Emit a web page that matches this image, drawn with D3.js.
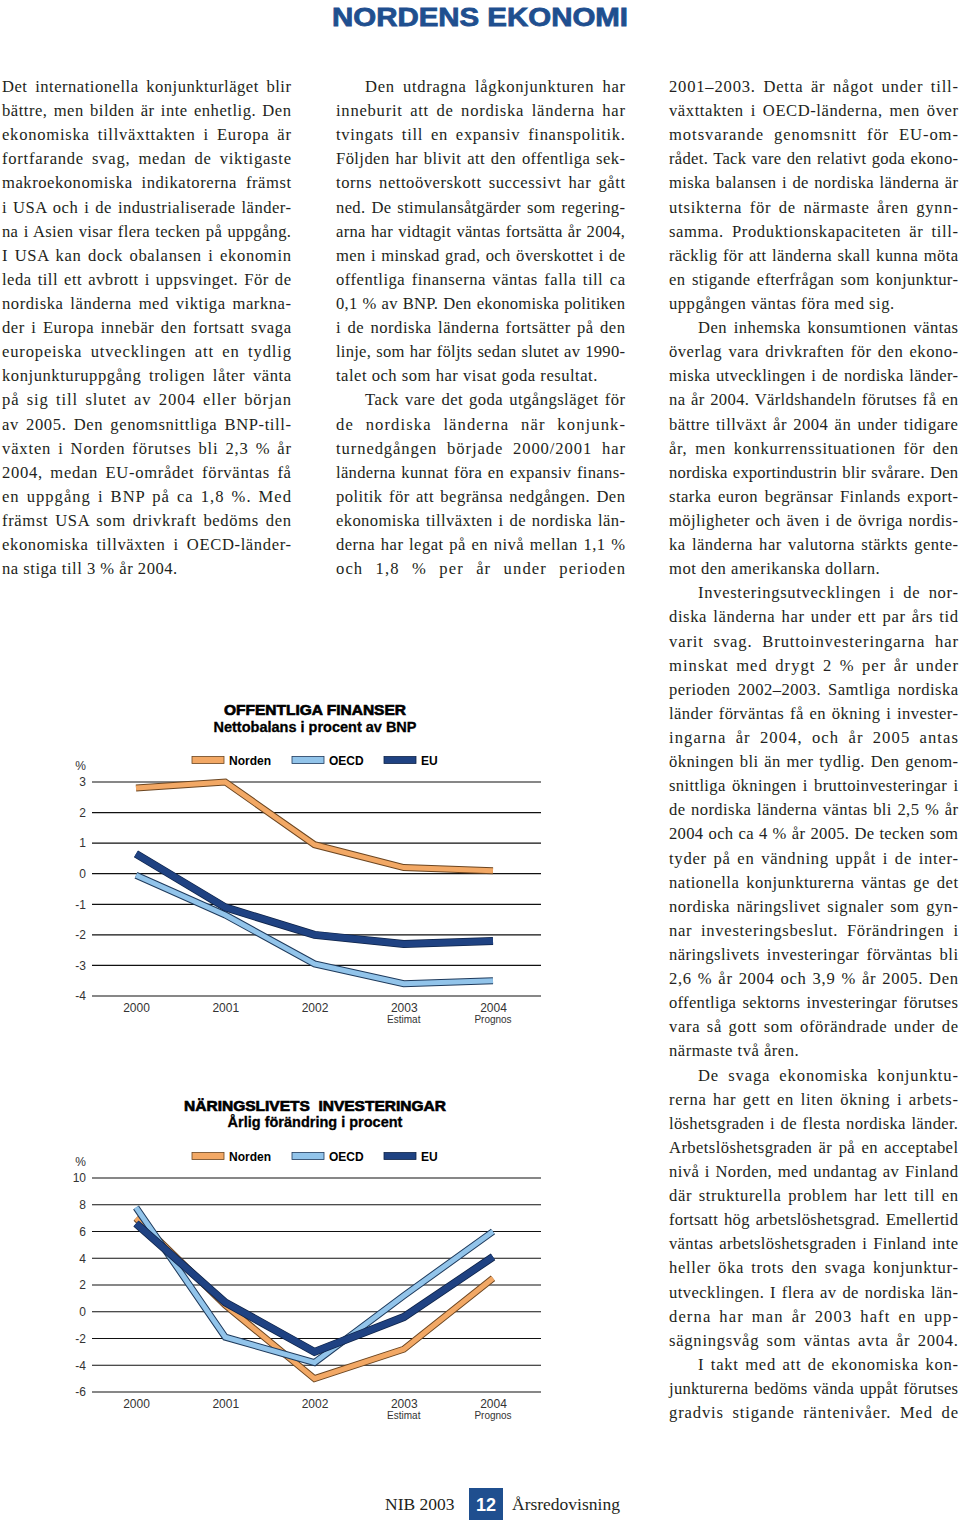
<!DOCTYPE html>
<html><head><meta charset="utf-8">
<script src="https://cdn.jsdelivr.net/npm/d3@7"></script>
<style>
html,body{margin:0;padding:0;background:#fff;}
svg{display:block;}
</style>
</head><body>
<svg id="page" width="960" height="1528"></svg>
<script>
// ---------- DATA ----------
const years = ["2000","2001","2002","2003","2004"];
const yearNotes = ["","","","Estimat","Prognos"];
const seriesNames = ["Norden","OECD","EU"];
// Offentliga finanser – nettobalans i procent av BNP
const finNorden = [2.8, 3.0, 0.95, 0.2, 0.1];
const finOECD   = [-0.05, -1.35, -2.95, -3.6, -3.5];
const finEU     = [0.65, -1.1, -2.0, -2.3, -2.2];
const finTicks  = [-4,-3,-2,-1,0,1,2,3];
// Näringslivets investeringar – årlig förändring i procent
const invNorden = [7.0, 0.5, -5.0, -2.8, 2.5];
const invOECD   = [7.8, -1.9, -3.8, 1.2, 6.0];
const invEU     = [6.6, 0.7, -3.0, -0.4, 4.1];
const invTicks  = [-6,-4,-2,0,2,4,6,8,10];

// ---------- TEXT ----------
// ">" = indented first line, "|" at end = paragraph end (not justified)
const col1 = [
"Det internationella konjunkturläget blir",
"bättre, men bilden är inte enhetlig. Den",
"ekonomiska tillväxttakten i Europa är",
"fortfarande svag, medan de viktigaste",
"makroekonomiska indikatorerna främst",
"i USA och i de industrialiserade länder-",
"na i Asien visar flera tecken på uppgång.",
"I USA kan dock obalansen i ekonomin",
"leda till ett avbrott i uppsvinget. För de",
"nordiska länderna med viktiga markna-",
"der i Europa innebär den fortsatt svaga",
"europeiska utvecklingen att en tydlig",
"konjunkturuppgång troligen låter vänta",
"på sig till slutet av 2004 eller början",
"av 2005. Den genomsnittliga BNP-till-",
"växten i Norden förutses bli 2,3 % år",
"2004, medan EU-området förväntas få",
"en uppgång i BNP på ca 1,8 %. Med",
"främst USA som drivkraft bedöms den",
"ekonomiska tillväxten i OECD-länder-",
"na stiga till 3 % år 2004.|"
];
const col2 = [
">Den utdragna lågkonjunkturen har",
"inneburit att de nordiska länderna har",
"tvingats till en expansiv finanspolitik.",
"Följden har blivit att den offentliga sek-",
"torns nettoöverskott successivt har gått",
"ned. De stimulansåtgärder som regering-",
"arna har vidtagit väntas fortsätta år 2004,",
"men i minskad grad, och överskottet i de",
"offentliga finanserna väntas falla till ca",
"0,1 % av BNP. Den ekonomiska politiken",
"i de nordiska länderna fortsätter på den",
"linje, som har följts sedan slutet av 1990-",
"talet och som har visat goda resultat.|",
">Tack vare det goda utgångsläget för",
"de nordiska länderna när konjunk-",
"turnedgången började 2000/2001 har",
"länderna kunnat föra en expansiv finans-",
"politik för att begränsa nedgången. Den",
"ekonomiska tillväxten i de nordiska län-",
"derna har legat på en nivå mellan 1,1 %",
"och 1,8 % per år under perioden"
];
const col3 = [
"2001–2003. Detta är något under till-",
"växttakten i OECD-länderna, men över",
"motsvarande genomsnitt för EU-om-",
"rådet. Tack vare den relativt goda ekono-",
"miska balansen i de nordiska länderna är",
"utsikterna för de närmaste åren gynn-",
"samma. Produktionskapaciteten är till-",
"räcklig för att länderna skall kunna möta",
"en stigande efterfrågan som konjunktur-",
"uppgången väntas föra med sig.|",
">Den inhemska konsumtionen väntas",
"överlag vara drivkraften för den ekono-",
"miska utvecklingen i de nordiska länder-",
"na år 2004. Världshandeln förutses få en",
"bättre tillväxt år 2004 än under tidigare",
"år, men konkurrenssituationen för den",
"nordiska exportindustrin blir svårare. Den",
"starka euron begränsar Finlands export-",
"möjligheter och även i de övriga nordis-",
"ka länderna har valutorna stärkts gente-",
"mot den amerikanska dollarn.|",
">Investeringsutvecklingen i de nor-",
"diska länderna har under ett par års tid",
"varit svag. Bruttoinvesteringarna har",
"minskat med drygt 2 % per år under",
"perioden 2002–2003. Samtliga nordiska",
"länder förväntas få en ökning i invester-",
"ingarna år 2004, och år 2005 antas",
"ökningen bli än mer tydlig. Den genom-",
"snittliga ökningen i bruttoinvesteringar i",
"de nordiska länderna väntas bli 2,5 % år",
"2004 och ca 4 % år 2005. De tecken som",
"tyder på en vändning uppåt i de inter-",
"nationella konjunkturerna väntas ge det",
"nordiska näringslivet signaler som gyn-",
"nar investeringsbeslut. Förändringen i",
"näringslivets investeringar förväntas bli",
"2,6 % år 2004 och 3,9 % år 2005. Den",
"offentliga sektorns investeringar förutses",
"vara så gott som oförändrade under de",
"närmaste två åren.|",
">De svaga ekonomiska konjunktu-",
"rerna har gett en liten ökning i arbets-",
"löshetsgraden i de flesta nordiska länder.",
"Arbetslöshetsgraden är på en acceptabel",
"nivå i Norden, med undantag av Finland",
"där strukturella problem har lett till en",
"fortsatt hög arbetslöshetsgrad. Emellertid",
"väntas arbetslöshetsgraden i Finland inte",
"heller öka trots den svaga konjunktur-",
"utvecklingen. I flera av de nordiska län-",
"derna har man år 2003 haft en upp-",
"sägningsvåg som väntas avta år 2004.",
">I takt med att de ekonomiska kon-",
"junkturerna bedöms vända uppåt förutses",
"gradvis stigande räntenivåer. Med de"
];

const svg = d3.select("#page");
const BLUE = "#1f4f8f";
const serif = "'Liberation Serif', 'DejaVu Serif', serif";
const sans = "'Liberation Sans', Arial, Helvetica, sans-serif";

// ---------- HEADER ----------
svg.append("text").attr("x", 480).attr("y", 25.5)
  .attr("text-anchor","middle")
  .attr("font-family","'Liberation Sans Narrow', 'Liberation Sans', sans-serif")
  .attr("font-weight","bold").attr("font-size", 25)
  .attr("fill", BLUE).attr("stroke", BLUE).attr("stroke-width", 0.8)
  .attr("textLength", 296).attr("lengthAdjust","spacingAndGlyphs")
  .text("NORDENS EKONOMI");

// ---------- BODY TEXT ----------
function layoutColumn(lines, x0, width, y0, lh){
  const g = svg.append("g").attr("font-family", serif).attr("font-size", 16.6)
    .attr("fill","#231f20");
  lines.forEach((raw, i) => {
    let s = raw, indent = 0, justify = true;
    if (s.startsWith(">")) { s = s.slice(1); indent = 29; }
    if (s.endsWith("|")) { s = s.slice(0,-1); justify = false; }
    const t = g.append("text").attr("x", x0 + indent).attr("y", y0 + i*lh).text(s);
    const target = width - indent;
    const n = (s.match(/ /g) || []).length;
    const w0 = t.node().getComputedTextLength();
    if (!justify) { t.attr("letter-spacing", 0.5); return; }
    const extra = target - w0;
    let ls = extra * 0.7 / s.length;
    ls = Math.max(-0.4, Math.min(1.1, ls));
    t.attr("letter-spacing", ls);
    const w1 = t.node().getComputedTextLength() - ls;
    if (n > 0) t.style("word-spacing", ((target - w1)/n) + "px");
  });
}
const LH = 24.11;
layoutColumn(col1, 2, 289, 92, LH);
layoutColumn(col2, 336, 289, 92, LH);
layoutColumn(col3, 669, 289, 92, LH);

// ---------- CHARTS ----------
const styles = {
  Norden: {fill:"#f2a865", edge:"#6b4520", w:5, ow:7},
  OECD:   {fill:"#92c4ea", edge:"#1e3a5c", w:5, ow:7},
  EU:     {fill:"#1f4282", edge:"#0e2348", w:6.5, ow:8}
};

function drawChart(cfg){
  const g = svg.append("g");
  const x = d3.scalePoint().domain(years).range([136, 493]);
  const y = d3.scaleLinear().domain(cfg.domain).range(cfg.yRange);

  // titles
  g.append("text").attr("x", 315).attr("y", cfg.titleY).attr("text-anchor","middle")
    .attr("font-family", sans).attr("font-weight","bold").attr("font-size", 15.5)
    .attr("fill","#000").attr("stroke","#000").attr("stroke-width",0.7)
    .attr("xml:space","preserve")
    .text(cfg.title);
  g.append("text").attr("x", 315).attr("y", cfg.titleY+16.5).attr("text-anchor","middle")
    .attr("font-family", sans).attr("font-weight","bold").attr("font-size", 14.5)
    .attr("fill","#000").attr("stroke","#000").attr("stroke-width",0.3)
    .text(cfg.subtitle);

  // legend
  const legX = [192, 292, 384];
  seriesNames.forEach((name, i) => {
    const st = styles[name];
    g.append("rect").attr("x", legX[i]).attr("y", cfg.legendY - 3.5)
      .attr("width", 32).attr("height", 7)
      .attr("fill", st.fill).attr("stroke", st.edge).attr("stroke-width", 0.8);
    g.append("text").attr("x", legX[i] + 37).attr("y", cfg.legendY + 4.5)
      .attr("font-family", sans).attr("font-weight","bold").attr("font-size", 12)
      .attr("fill","#000").text(name);
  });

  // grid lines
  g.append("g").selectAll("line").data(cfg.ticks).join("line")
    .attr("x1", 92).attr("x2", 541)
    .attr("y1", d => y(d)).attr("y2", d => y(d))
    .attr("stroke","#111").attr("stroke-width", 1.2);

  // y axis labels
  const yAxis = d3.axisLeft(y).tickValues(cfg.ticks).tickSize(0).tickPadding(0)
    .tickFormat(d => d < 0 ? "-" + Math.abs(d) : String(d));
  const ya = g.append("g").attr("transform","translate(86,0)").call(yAxis);
  ya.select(".domain").remove();
  ya.selectAll("text").attr("font-family", sans).attr("font-size", 12).attr("fill","#333");
  g.append("text").attr("x", 86).attr("y", y(cfg.ticks[cfg.ticks.length-1]) - 12)
    .attr("text-anchor","end").attr("font-family", sans).attr("font-size", 12)
    .attr("fill","#333").text("%");

  // x axis labels
  const xAxis = d3.axisBottom(x).tickSize(0).tickPadding(0);
  const xa = g.append("g").attr("transform", `translate(0,${cfg.yRange[0]+7})`).call(xAxis);
  xa.select(".domain").remove();
  xa.selectAll("text").attr("font-family", sans).attr("font-size", 12).attr("fill","#333");
  g.append("g").selectAll("text").data(years).join("text")
    .attr("x", d => x(d)).attr("y", cfg.yRange[0] + 26.5)
    .attr("text-anchor","middle").attr("font-family", sans).attr("font-size", 10)
    .attr("fill","#333").text((d,i) => yearNotes[i]);

  // lines
  const line = d3.line().x((d,i) => x(years[i])).y(d => y(d));
  cfg.series.forEach(([name, vals]) => {
    const st = styles[name];
    g.append("path").attr("d", line(vals)).attr("fill","none")
      .attr("stroke", st.edge).attr("stroke-width", st.ow)
      .attr("stroke-linejoin","miter").attr("stroke-linecap","butt");
    g.append("path").attr("d", line(vals)).attr("fill","none")
      .attr("stroke", st.fill).attr("stroke-width", st.w)
      .attr("stroke-linejoin","miter").attr("stroke-linecap","butt");
  });
}

drawChart({
  title: "OFFENTLIGA FINANSER",
  subtitle: "Nettobalans i procent av BNP",
  titleY: 715, legendY: 760,
  domain: [-4, 3], yRange: [996, 782], ticks: finTicks,
  series: [["Norden", finNorden], ["OECD", finOECD], ["EU", finEU]]
});
drawChart({
  title: "NÄRINGSLIVETS  INVESTERINGAR",
  subtitle: "Årlig förändring i procent",
  titleY: 1110.5, legendY: 1156,
  domain: [-6, 10], yRange: [1392, 1178], ticks: invTicks,
  series: [["Norden", invNorden], ["OECD", invOECD], ["EU", invEU]]
});

// ---------- FOOTER ----------
svg.append("text").attr("x", 385).attr("y", 1510)
  .attr("font-family", serif).attr("font-size", 17.5).attr("fill","#231f20")
  .text("NIB 2003");
svg.append("rect").attr("x", 469).attr("y", 1488).attr("width", 34).attr("height", 32).attr("fill", BLUE);
svg.append("text").attr("x", 486).attr("y", 1510.5).attr("text-anchor","middle")
  .attr("font-family", sans).attr("font-weight","bold").attr("font-size", 18).attr("fill","#fff")
  .text("12");
svg.append("text").attr("x", 512).attr("y", 1510)
  .attr("font-family", serif).attr("font-size", 17.5).attr("fill","#231f20")
  .text("Årsredovisning");
</script>
</body></html>
